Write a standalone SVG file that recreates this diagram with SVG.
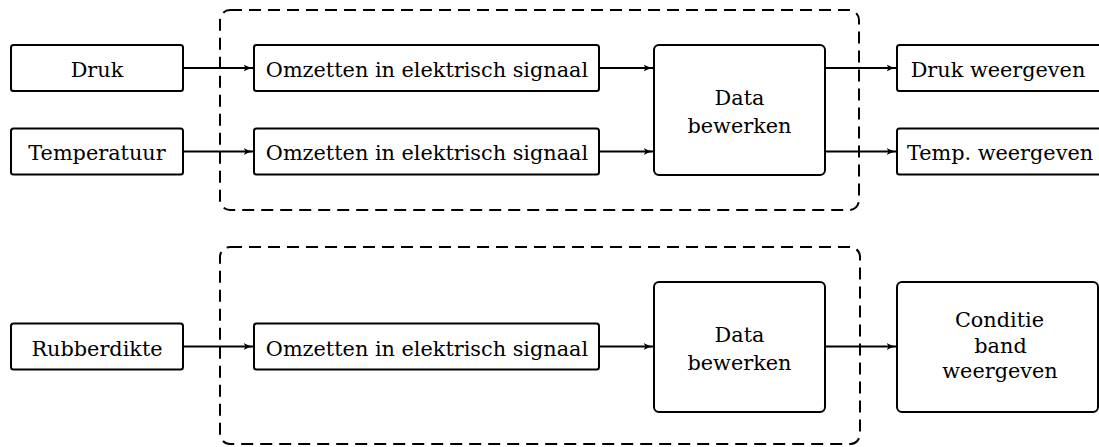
<svg xmlns="http://www.w3.org/2000/svg" width="1099" height="447" viewBox="0 0 1099 447">
  <style>
    .box { fill: #fff; stroke: #000; stroke-width: 2; }
    .group { fill: none; stroke: #000; stroke-width: 2; stroke-dasharray: 12 7; }
    .edge { fill: none; stroke: #000; stroke-width: 1.8; marker-end: url(#arrow); }
    .lbl { font-family: 'DejaVu Serif', 'Liberation Serif', serif; font-size: 20.8px; fill: #000; text-anchor: middle; }
  </style>
  <defs>
    <marker id="arrow" viewBox="0 0 10 8" refX="9.5" refY="4" markerWidth="10" markerHeight="8" markerUnits="userSpaceOnUse" orient="auto">
      <path d="M0,0.5 Q4,3 10,4 Q4,5 0,7.5 L2.2,4 Z" fill="#000"/>
    </marker>
  </defs>

  <!-- dashed processing groups -->
  <g id="groups">
    <rect class="group" x="220" y="10" width="639" height="200" rx="10"/>
    <rect class="group" x="220" y="247" width="640" height="197" rx="10"/>
  </g>

  <!-- connectors -->
  <g id="connectors">
    <line class="edge" x1="183" y1="68" x2="253" y2="68"/>
    <line class="edge" x1="183" y1="151.5" x2="253" y2="151.5"/>
    <line class="edge" x1="599" y1="68" x2="653" y2="68"/>
    <line class="edge" x1="599" y1="151.5" x2="653" y2="151.5"/>
    <line class="edge" x1="825" y1="68" x2="896" y2="68"/>
    <line class="edge" x1="825" y1="151.5" x2="896" y2="151.5"/>
    <line class="edge" x1="183" y1="346.5" x2="253" y2="346.5"/>
    <line class="edge" x1="599" y1="346.5" x2="653" y2="346.5"/>
    <line class="edge" x1="825" y1="346.5" x2="896" y2="346.5"/>
  </g>

  <!-- pressure path -->
  <g id="druk">
    <rect class="box" x="11" y="45" width="172" height="46" rx="2.5"/>
    <text class="lbl" x="97" y="77">Druk</text>
  </g>
  <g id="omzetten-druk">
    <rect class="box" x="254" y="45" width="345" height="46" rx="2.5"/>
    <text class="lbl" x="427" y="77">Omzetten in elektrisch signaal</text>
  </g>
  <g id="druk-weergeven">
    <rect class="box" x="897" y="45" width="215" height="46" rx="2.5"/>
    <text class="lbl" x="998" y="77">Druk weergeven</text>
  </g>

  <!-- temperature path -->
  <g id="temperatuur">
    <rect class="box" x="11" y="128.5" width="172" height="46" rx="2.5"/>
    <text class="lbl" x="97" y="159.5">Temperatuur</text>
  </g>
  <g id="omzetten-temp">
    <rect class="box" x="254" y="128.5" width="345" height="46" rx="2.5"/>
    <text class="lbl" x="427" y="159.5">Omzetten in elektrisch signaal</text>
  </g>
  <g id="temp-weergeven">
    <rect class="box" x="897" y="128.5" width="215" height="46" rx="2.5"/>
    <text class="lbl" x="1000" y="159.5">Temp. weergeven</text>
  </g>

  <!-- shared processing for pressure and temperature -->
  <g id="data-bewerken-1">
    <rect class="box" x="654" y="45" width="171" height="130" rx="5"/>
    <text class="lbl" x="739.5" y="105">Data</text>
    <text class="lbl" x="739.5" y="133">bewerken</text>
  </g>

  <!-- rubber thickness path -->
  <g id="rubberdikte">
    <rect class="box" x="11" y="323.5" width="172" height="46" rx="2.5"/>
    <text class="lbl" x="97" y="355.5">Rubberdikte</text>
  </g>
  <g id="omzetten-rubber">
    <rect class="box" x="254" y="323.5" width="345" height="46" rx="2.5"/>
    <text class="lbl" x="427" y="355.5">Omzetten in elektrisch signaal</text>
  </g>
  <g id="data-bewerken-2">
    <rect class="box" x="654" y="282" width="171" height="130" rx="5"/>
    <text class="lbl" x="739.5" y="342">Data</text>
    <text class="lbl" x="739.5" y="369.5">bewerken</text>
  </g>
  <g id="conditie-band">
    <rect class="box" x="897" y="282" width="201" height="130" rx="5"/>
    <text class="lbl" x="999.5" y="327">Conditie</text>
    <text class="lbl" x="1000.5" y="353">band</text>
    <text class="lbl" x="1000" y="378">weergeven</text>
  </g>
</svg>
